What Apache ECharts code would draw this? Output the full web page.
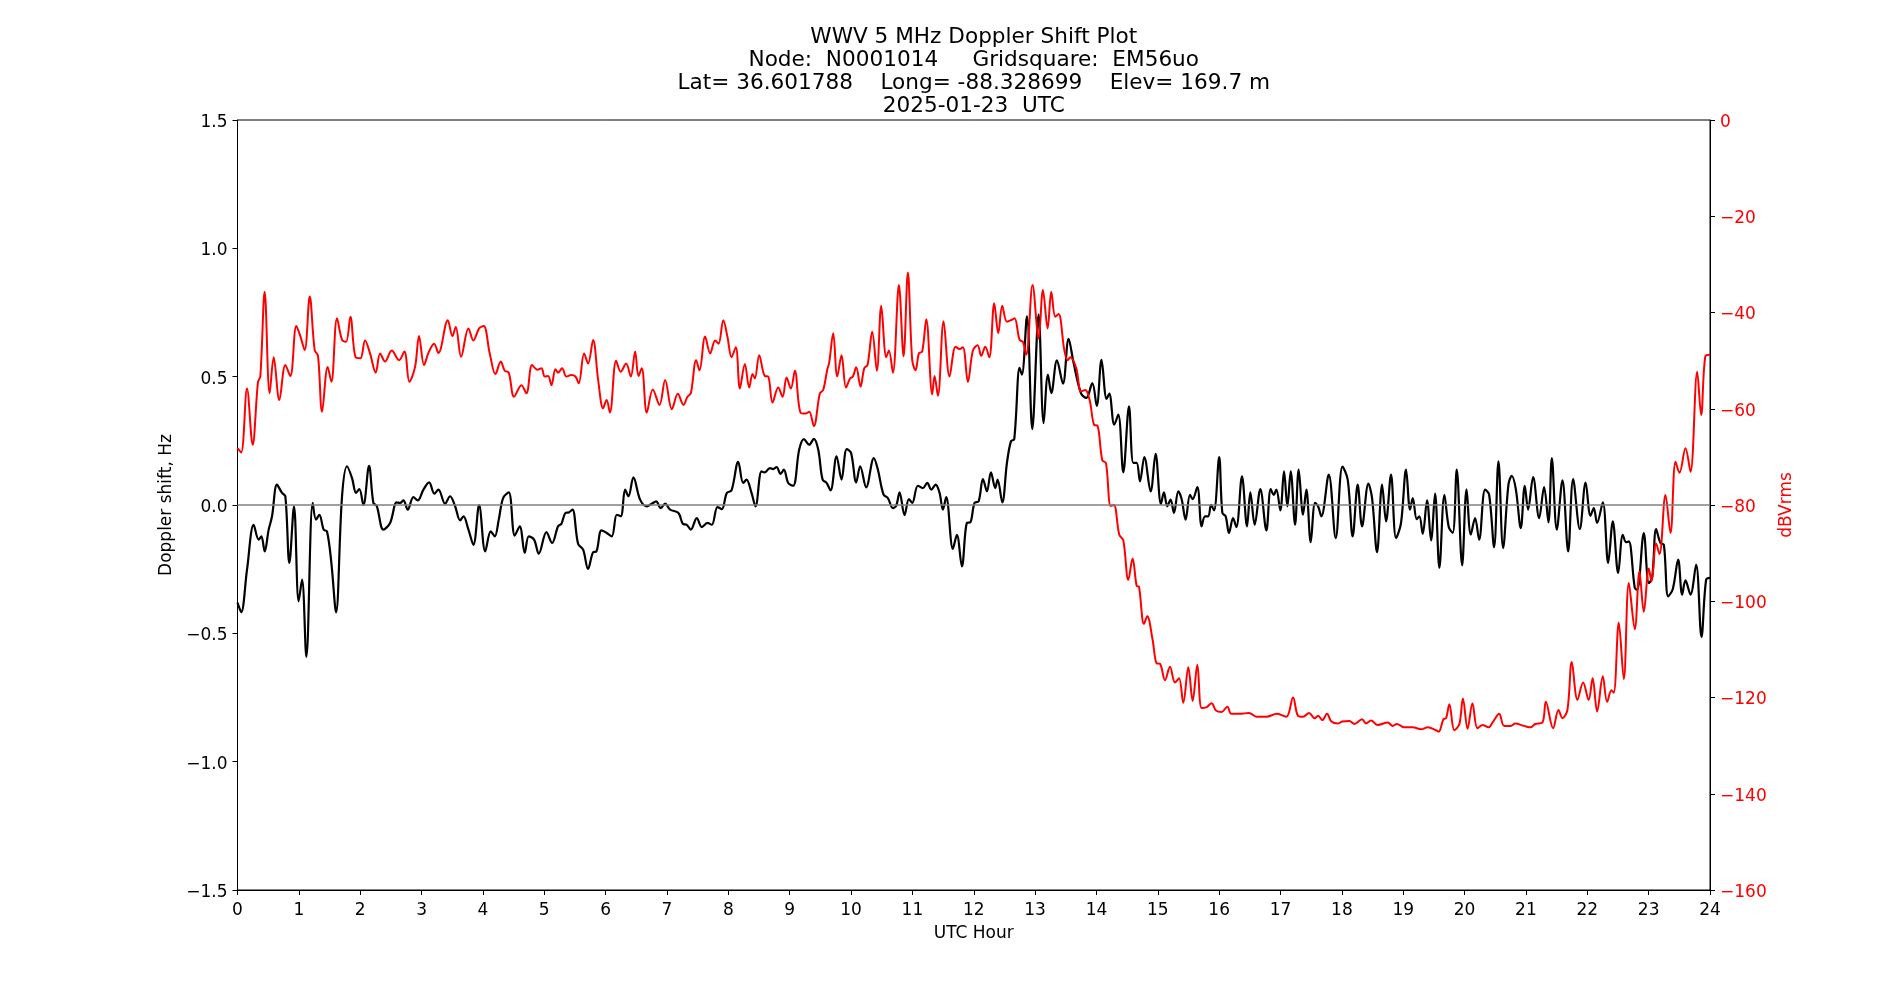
<!DOCTYPE html>
<html>
<head>
<meta charset="utf-8">
<script src="https://cdn.jsdelivr.net/npm/echarts@6/dist/echarts.min.js"></script>
<style>
html,body{margin:0;padding:0;background:#fff;}
#chart{width:1900px;height:1000px;}
</style>
</head>
<body>
<div id="chart"></div>
<script>
const titleLines = [
  "WWV 5 MHz Doppler Shift Plot",
  "Node:  N0001014     Gridsquare:  EM56uo",
  "Lat= 36.601788    Long= -88.328699    Elev= 169.7 m",
  "2025-01-23  UTC"
];
const xLabel = "UTC Hour";
const yLeftLabel = "Doppler shift, Hz";
const yRightLabel = "dBVrms";

const blackHours = [0.0,0.06,0.155,0.264,0.345,0.389,0.443,0.508,0.563,0.644,0.726,0.780,0.845,0.921,0.997,1.052,1.122,1.226,1.280,1.334,1.405,1.459,1.530,1.606,1.704,1.785,1.867,1.932,1.986,2.052,2.144,2.215,2.269,2.378,2.487,2.595,2.650,2.704,2.775,2.867,2.938,3.030,3.123,3.209,3.275,3.383,3.465,3.547,3.628,3.683,3.764,3.845,3.938,4.038,4.128,4.193,4.258,4.329,4.421,4.519,4.600,4.682,4.747,4.834,4.910,5.035,5.128,5.225,5.280,5.345,5.399,5.459,5.551,5.633,5.714,5.796,5.850,5.932,6.019,6.100,6.182,6.247,6.318,6.372,6.453,6.562,6.671,6.752,6.823,6.899,6.970,7.051,7.187,7.258,7.323,7.388,7.486,7.568,7.660,7.731,7.823,7.894,7.975,8.052,8.161,8.242,8.296,8.378,8.443,8.541,8.595,8.677,8.731,8.786,8.851,8.905,8.976,9.057,9.155,9.231,9.318,9.394,9.465,9.536,9.601,9.666,9.764,9.845,9.930,10.000,10.084,10.149,10.247,10.372,10.437,10.530,10.600,10.682,10.736,10.791,10.872,10.943,10.997,11.089,11.171,11.242,11.307,11.378,11.443,11.497,11.551,11.660,11.725,11.807,11.888,11.943,12.013,12.079,12.150,12.215,12.280,12.351,12.389,12.465,12.541,12.606,12.660,12.747,12.785,12.867,12.954,13.057,13.139,13.209,13.264,13.356,13.454,13.546,13.628,13.747,13.834,13.932,14.005,14.082,14.165,14.209,14.290,14.356,14.437,14.530,14.600,14.655,14.709,14.780,14.883,14.964,15.051,15.100,15.154,15.209,15.263,15.334,15.388,15.453,15.524,15.567,15.644,15.714,15.769,15.823,15.867,15.916,16.000,16.052,16.106,16.160,16.226,16.280,16.372,16.454,16.508,16.579,16.671,16.769,16.840,16.889,16.932,16.997,17.057,17.112,17.166,17.237,17.296,17.367,17.421,17.492,17.563,17.612,17.666,17.786,17.900,18.010,18.095,18.176,18.258,18.329,18.432,18.492,18.573,18.655,18.720,18.801,18.883,18.964,19.046,19.111,19.155,19.220,19.263,19.318,19.388,19.454,19.519,19.589,19.671,19.742,19.807,19.872,19.960,20.032,20.101,20.171,20.237,20.334,20.400,20.481,20.552,20.628,20.715,20.769,20.835,20.916,20.981,21.035,21.117,21.215,21.296,21.367,21.422,21.503,21.595,21.688,21.769,21.878,21.973,22.052,22.106,22.160,22.253,22.340,22.416,22.503,22.579,22.633,22.677,22.774,22.813,22.921,23.003,23.057,23.122,23.193,23.248,23.318,23.394,23.481,23.546,23.600,23.682,23.774,23.861,23.937,24.0];
const blackHz = [-0.38,-0.418,-0.252,-0.077,-0.135,-0.122,-0.181,-0.096,-0.044,0.079,0.047,0.034,-0.226,-0.005,-0.375,-0.291,-0.592,0.008,-0.057,-0.038,-0.096,-0.103,-0.226,-0.418,0.034,0.151,0.105,0.047,0.062,0.0,0.153,0.008,-0.003,-0.096,-0.07,0.010,0.008,0.018,-0.018,0.031,0.018,0.060,0.088,0.044,0.060,0.005,0.034,-0.005,-0.060,-0.044,-0.096,-0.155,0.0,-0.181,-0.103,-0.122,-0.057,0.027,0.049,-0.119,-0.083,-0.187,-0.122,-0.135,-0.190,-0.106,-0.148,-0.083,-0.073,-0.031,-0.029,-0.018,-0.151,-0.174,-0.249,-0.184,-0.181,-0.099,-0.109,-0.122,-0.038,-0.044,0.060,0.034,0.108,0.021,-0.005,0.005,0.014,-0.012,0.005,-0.018,-0.031,-0.073,-0.077,-0.096,-0.051,-0.086,-0.070,-0.077,-0.008,-0.016,0.047,0.057,0.168,0.086,0.099,0.047,-0.005,0.131,0.127,0.144,0.140,0.148,0.121,0.138,0.086,0.075,0.216,0.257,0.235,0.258,0.216,0.099,0.086,0.057,0.190,0.099,0.218,0.203,0.088,0.151,0.069,0.183,0.138,0.040,0.027,-0.012,-0.003,0.049,-0.040,0.023,0.008,0.075,0.066,0.086,0.060,0.079,0.047,-0.018,0.031,-0.171,-0.116,-0.239,-0.070,-0.068,0.008,0.014,0.101,0.053,0.127,0.066,0.099,0.010,0.164,0.248,0.257,0.534,0.508,0.735,0.296,0.742,0.319,0.508,0.436,0.564,0.473,0.647,0.553,0.436,0.417,0.475,0.386,0.566,0.413,0.434,0.313,0.352,0.127,0.384,0.164,0.164,0.092,0.187,0.053,0.199,0.004,0.049,-0.005,0.021,-0.031,0.053,0.023,-0.057,0.040,0.023,0.070,-0.083,-0.044,-0.044,0.001,-0.021,0.187,-0.031,-0.044,-0.109,-0.051,-0.086,0.112,-0.083,0.049,-0.077,0.062,-0.099,0.062,0.040,0.060,-0.021,0.131,-0.005,0.131,-0.077,0.138,-0.038,0.060,-0.145,0.008,-0.005,-0.044,0.118,-0.129,0.150,0.099,-0.122,0.079,-0.083,0.083,0.027,-0.184,0.079,-0.064,0.118,-0.129,-0.070,0.138,-0.018,0.027,-0.055,-0.044,-0.112,0.018,-0.138,0.044,-0.245,0.040,-0.086,-0.109,0.138,-0.235,0.061,-0.116,-0.051,-0.135,0.060,0.040,-0.164,0.170,-0.168,0.079,0.114,0.062,-0.090,0.075,-0.018,0.109,-0.051,0.070,-0.068,0.183,-0.096,0.096,-0.181,0.101,-0.094,0.087,-0.042,-0.012,-0.070,0.010,-0.226,-0.064,-0.265,-0.116,-0.145,-0.142,-0.323,-0.330,-0.109,-0.304,-0.284,-0.094,-0.148,-0.155,-0.356,-0.327,-0.213,-0.349,-0.294,-0.349,-0.232,-0.514,-0.291,-0.284];

const redHours = [0.0,0.06,0.155,0.247,0.334,0.372,0.443,0.524,0.590,0.682,0.780,0.861,0.959,1.024,1.095,1.177,1.258,1.312,1.378,1.470,1.530,1.622,1.704,1.769,1.840,1.921,2.003,2.079,2.160,2.253,2.324,2.405,2.514,2.633,2.720,2.802,2.894,2.959,3.041,3.112,3.204,3.275,3.427,3.503,3.557,3.644,3.764,3.845,3.938,4.013,4.111,4.204,4.291,4.356,4.421,4.508,4.628,4.709,4.801,4.888,4.954,5.008,5.062,5.117,5.182,5.225,5.291,5.361,5.443,5.508,5.562,5.649,5.714,5.796,5.878,5.959,6.016,6.070,6.171,6.247,6.334,6.410,6.481,6.535,6.589,6.671,6.769,6.878,6.970,7.079,7.177,7.269,7.334,7.389,7.475,7.530,7.622,7.704,7.785,7.840,7.918,7.985,8.052,8.122,8.188,8.269,8.340,8.394,8.432,8.503,8.595,8.650,8.720,8.813,8.884,8.949,9.019,9.084,9.177,9.264,9.318,9.394,9.492,9.546,9.612,9.644,9.709,9.775,9.845,9.918,9.984,10.030,10.084,10.155,10.215,10.269,10.345,10.421,10.492,10.574,10.617,10.682,10.780,10.856,10.926,10.997,11.052,11.106,11.160,11.226,11.323,11.361,11.416,11.508,11.606,11.704,11.769,11.823,11.905,11.986,12.063,12.122,12.188,12.253,12.334,12.400,12.465,12.541,12.622,12.666,12.747,12.802,12.856,12.959,13.057,13.128,13.204,13.264,13.329,13.383,13.476,13.530,13.573,13.671,13.747,13.818,13.889,13.965,14.016,14.095,14.155,14.231,14.285,14.372,14.437,14.519,14.589,14.655,14.693,14.774,14.828,14.915,14.981,15.035,15.117,15.198,15.280,15.345,15.415,15.497,15.568,15.644,15.714,15.796,15.877,15.948,16.040,16.133,16.198,16.334,16.487,16.606,16.769,16.943,17.095,17.204,17.285,17.367,17.465,17.557,17.612,17.682,17.758,17.829,17.938,18.008,18.122,18.204,18.329,18.394,18.475,18.584,18.747,18.829,18.894,19.019,19.155,19.290,19.399,19.535,19.579,19.655,19.698,19.752,19.834,19.915,19.973,20.049,20.128,20.209,20.291,20.389,20.465,20.563,20.644,20.753,20.824,20.970,21.079,21.150,21.269,21.324,21.443,21.530,21.595,21.676,21.747,21.840,21.932,22.022,22.087,22.160,22.253,22.323,22.394,22.432,22.513,22.595,22.677,22.774,22.850,22.921,23.003,23.046,23.122,23.177,23.274,23.356,23.438,23.503,23.600,23.682,23.791,23.856,23.927,24.0];
const redDb = [-68.2,-69.1,-55.8,-67.5,-54.4,-53.3,-35.7,-56.8,-49.3,-58.2,-50.9,-53.2,-42.8,-44.9,-47.8,-36.7,-47.8,-49.0,-60.6,-51.3,-54.4,-41.2,-45.7,-46.1,-40.9,-49.2,-49.5,-45.8,-48.5,-52.5,-48.5,-50.2,-47.9,-49.9,-48.1,-54.4,-51.3,-44.9,-50.9,-48.4,-46.5,-48.4,-41.6,-44.9,-43.0,-49.2,-43.3,-45.8,-43.3,-42.8,-48.5,-52.8,-50.2,-52.1,-52.5,-57.5,-55.1,-56.8,-50.9,-51.9,-51.6,-53.3,-53.2,-55.1,-51.8,-52.5,-51.6,-53.3,-53.0,-53.3,-54.7,-48.5,-50.6,-45.7,-54.0,-59.9,-58.2,-60.8,-50.0,-52.3,-50.6,-53.3,-48.1,-53.2,-51.6,-60.8,-56.0,-59.2,-54.0,-60.1,-56.9,-59.2,-57.5,-56.8,-49.9,-52.0,-45.0,-48.5,-45.8,-46.5,-41.6,-45.0,-49.3,-47.2,-55.8,-50.7,-55.6,-52.8,-53.7,-48.9,-53.2,-53.3,-58.7,-55.6,-57.5,-53.5,-55.8,-52.1,-60.8,-61.0,-60.6,-63.6,-56.8,-56.1,-51.9,-50.4,-44.3,-53.3,-48.9,-55.6,-53.7,-53.3,-51.4,-55.4,-51.6,-50.9,-44.0,-52.1,-38.6,-49.3,-47.9,-52.5,-34.3,-49.1,-31.7,-49.9,-52.0,-48.5,-48.1,-41.4,-57.0,-53.2,-57.3,-41.8,-53.3,-47.1,-47.6,-47.2,-54.4,-47.9,-46.8,-49.0,-47.1,-49.3,-38.1,-44.3,-38.6,-41.9,-41.5,-41.2,-45.7,-46.1,-48.8,-34.3,-45.4,-35.3,-43.3,-35.7,-40.9,-40.3,-47.8,-49.9,-49.3,-51.6,-56.4,-56.1,-58.2,-63.4,-63.5,-70.7,-71.3,-80.2,-80.0,-86.2,-87.3,-95.6,-91.1,-96.8,-97.0,-104.7,-103.1,-108.0,-112.9,-113.0,-116.4,-113.6,-116.9,-116.0,-121.1,-113.7,-120.7,-113.2,-122.2,-122.0,-121.2,-122.7,-123.0,-121.9,-123.4,-123.4,-123.2,-124.0,-124.0,-123.4,-124.0,-120.0,-123.8,-124.0,-123.2,-124.3,-123.8,-124.7,-123.4,-125.0,-125.4,-125.0,-124.9,-125.5,-124.5,-125.4,-124.8,-125.7,-125.2,-125.9,-125.5,-126.2,-126.2,-126.6,-126.2,-126.8,-127.1,-124.5,-124.3,-121.4,-126.8,-125.5,-120.2,-126.5,-121.2,-126.4,-125.7,-126.2,-125.0,-123.4,-125.9,-125.9,-125.4,-125.9,-126.2,-125.5,-125.2,-120.9,-126.4,-122.6,-124.3,-122.6,-112.6,-120.5,-116.9,-120.5,-116.0,-122.9,-115.6,-120.9,-118.5,-119.0,-104.4,-116.2,-96.2,-105.8,-93.8,-102.2,-93.2,-95.9,-88.0,-90.2,-77.9,-85.8,-71.0,-73.3,-68.2,-73.1,-52.3,-61.3,-49.0,-48.8];

const FONT = "'DejaVu Sans', sans-serif";
const minus = s => String(s).replace('-', '\u2212');

const chart = echarts.init(document.getElementById('chart'), null, {renderer: 'canvas'});
const titleY = [37.5, 60.5, 83.5, 106.5];
chart.setOption({
  animation: false,
  backgroundColor: '#ffffff',
  graphic: titleLines.map((t, i) => ({
    type: 'text', x: 973.75, y: titleY[i], silent: true,
    style: {text: t, fill: '#000', font: '21.6px ' + FONT, textAlign: 'center', textVerticalAlign: 'middle'}
  })),
  grid: {left: 237.5, right: 190, top: 120, bottom: 110, show: true, borderColor: '#000', borderWidth: 1, containLabel: false},
  xAxis: {
    type: 'value', min: 0, max: 24, interval: 1,
    name: xLabel, nameLocation: 'middle', nameGap: 35,
    nameTextStyle: {fontFamily: FONT, fontSize: 17, color: '#000'},
    axisLine: {show: true, onZero: false, lineStyle: {color: '#000', width: 1}},
    axisTick: {show: true, length: 5, lineStyle: {color: '#000', width: 1}},
    axisLabel: {fontFamily: FONT, fontSize: 17, color: '#000', margin: 12, hideOverlap: false},
    splitLine: {show: false}
  },
  yAxis: [{
    type: 'value', min: -1.5, max: 1.5, interval: 0.5, position: 'left',
    name: yLeftLabel, nameLocation: 'middle', nameRotate: 90, nameGap: 60,
    nameTextStyle: {fontFamily: FONT, fontSize: 17, color: '#000'},
    axisLine: {show: true, onZero: false, lineStyle: {color: '#000', width: 1}},
    axisTick: {show: true, length: 5, lineStyle: {color: '#000', width: 1}},
    axisLabel: {fontFamily: FONT, fontSize: 17, color: '#000', margin: 10, verticalAlign: 'top', lineHeight: 5, formatter: v => minus(v.toFixed(1))},
    splitLine: {show: false}
  }, {
    type: 'value', min: -160, max: 0, interval: 20, position: 'right',
    name: yRightLabel, nameLocation: 'middle', nameRotate: 90, nameGap: 63,
    nameTextStyle: {fontFamily: FONT, fontSize: 17, color: '#ff0000'},
    axisLine: {show: true, onZero: false, lineStyle: {color: '#000', width: 1}},
    axisTick: {show: true, length: 5, lineStyle: {color: '#000', width: 1}},
    axisLabel: {fontFamily: FONT, fontSize: 17, color: '#ff0000', margin: 10, verticalAlign: 'top', lineHeight: 5, formatter: v => minus(v)},
    splitLine: {show: false}
  }],
  series: [{
    name: 'Doppler', type: 'line', yAxisIndex: 0, showSymbol: false, smooth: 0.35,
    data: blackHours.map((h, i) => [h, blackHz[i]]),
    lineStyle: {color: '#000', width: 2.2}, z: 2,
    markLine: {silent: true, symbol: 'none', label: {show: false},
      lineStyle: {color: '#808080', width: 1.5, type: 'solid'}, data: [{yAxis: 0}]}
  }, {
    name: 'Power', type: 'line', yAxisIndex: 1, showSymbol: false, smooth: 0.35,
    data: redHours.map((h, i) => [h, redDb[i]]),
    lineStyle: {color: '#ff0000', width: 2}, z: 3
  }]
});
</script>
</body>
</html>
